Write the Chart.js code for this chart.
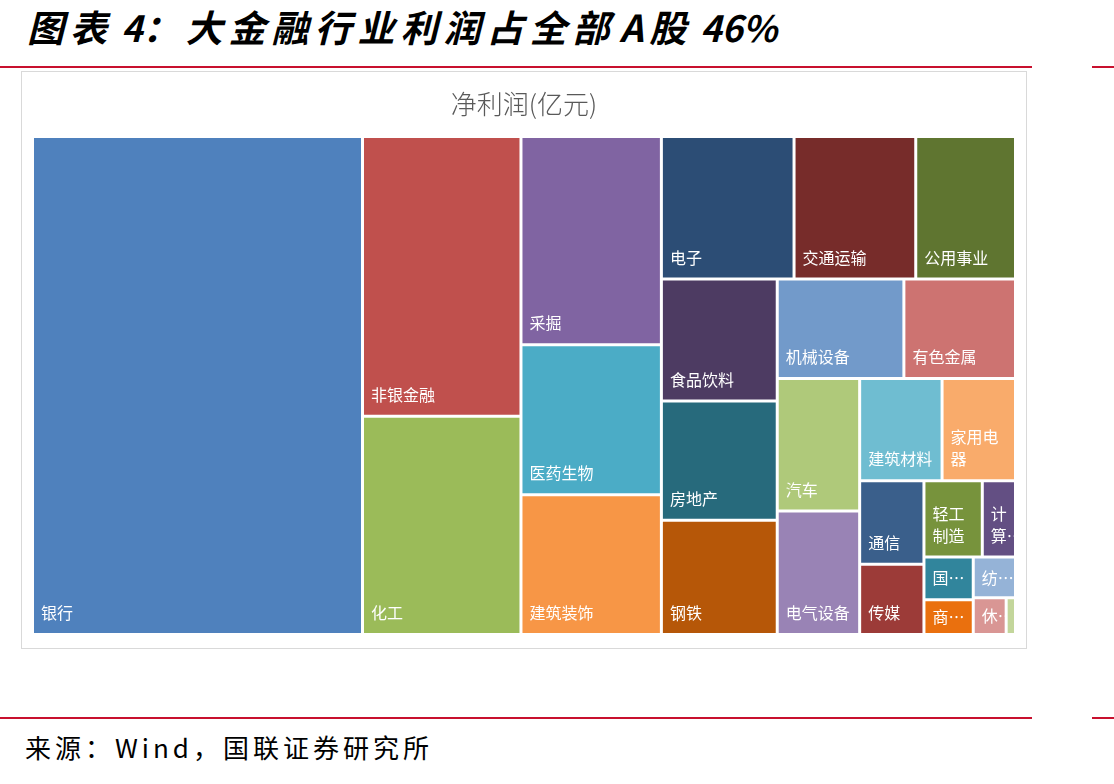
<!DOCTYPE html>
<html>
<head>
<meta charset="utf-8">
<script src="https://cdn.jsdelivr.net/npm/chart.js@4.4.1/dist/chart.umd.min.js"></script>
<style>
  html, body { margin: 0; padding: 0; background: #fff; }
  body { width: 1114px; height: 784px; position: relative; overflow: hidden; font-family: "Noto Sans CJK SC", sans-serif; }
  .heading { position: absolute; left: 27px; top: 8px; font-size: 37px; line-height: 1; font-weight: bold; font-style: italic; letter-spacing: 6px; color: #000; white-space: nowrap; }
  .heading .num { letter-spacing: 0; font-size: 36px; }
  .rule { position: absolute; height: 2px; background: #c8102e; }
  .frame { position: absolute; left: 21px; top: 71px; width: 1004px; height: 576px; border: 1px solid #d9d9d9; }
  .source { position: absolute; left: 25px; top: 734px; font-size: 26px; line-height: 1; letter-spacing: 4px; color: #000; white-space: nowrap; }
</style>
</head>
<body>
<div class="heading">图表<span class="num"> 4</span>：大金融行业利润占全部<span style="margin-left:4px">A</span>股<span class="num" style="margin-left:8px">46%</span></div>
<div class="rule" style="left:0;top:66px;width:1032px"></div>
<div class="rule" style="left:1092px;top:66px;width:22px"></div>
<div class="frame"><canvas id="treemap" width="1004" height="576"></canvas></div>
<div class="rule" style="left:0;top:717px;width:1032px"></div>
<div class="rule" style="left:1092px;top:717px;width:22px"></div>
<div class="source">来源：Wind，国联证券研究所</div>

<script>
// 申万一级行业净利润（亿元），按面积读取
var industries = ['银行', '非银金融', '化工', '采掘', '医药生物', '建筑装饰', '电子', '交通运输', '公用事业',
    '食品饮料', '房地产', '钢铁', '机械设备', '有色金属', '汽车', '电气设备', '建筑材料', '家用电器',
    '通信', '传媒', '轻工制造', '计算机', '国防军工', '商业贸易', '纺织服装', '休闲服务', '农林牧渔'];
var netProfit = [16286, 4392, 3429, 2898, 2086, 1946, 1875, 1720, 1410,
    1400, 1369, 1311, 1247, 1099, 1082, 1009, 836, 745,
    531, 448, 441, 251, 208, 170, 170, 120, 34];

var cellColors = ['#4f81bd', '#c0504d', '#9bbb59', '#8064a2', '#4bacc6', '#f79646', '#2c4d75', '#772c2a', '#5f7530',
    '#4d3b62', '#276a7c', '#b65708', '#729aca', '#cd7371', '#afc97a', '#9983b5', '#6fbdd1', '#f9ab6b',
    '#3a5f8b', '#9c3b38', '#77933c', '#634f83', '#31859c', '#ea700e', '#95b3d7', '#d99694', '#c3d69b'];

// Excel lays the strips out as if the area were a bit wider than drawn
var LAYOUT_STRETCH = 1.15;

function worstRatio(areas, start, end, thick) {
    var worst = 0;
    for (var k = start; k <= end; k++) {
        var len = areas[k] / thick;
        worst = Math.max(worst, len / thick, thick / len);
    }
    return worst;
}

// squarified treemap, returns rects in 0..1 units
function squarify(values, width, height) {
    var total = values.reduce(function (a, b) { return a + b; }, 0);
    var order = values.map(function (v, i) { return i; }).sort(function (a, b) { return values[b] - values[a]; });
    var areas = order.map(function (i) { return values[i] / total * width * height; });
    var rects = new Array(values.length);
    var x = 0, y = 0, w = width, h = height, start = 0;
    while (start < areas.length) {
        var column = w >= h;
        var side = column ? h : w;
        var end = start, sum = 0, best = Infinity;
        while (end < areas.length) {
            var s = sum + areas[end];
            var worst = worstRatio(areas, start, end, s / side);
            if (worst > best) break;
            best = worst;
            sum = s;
            end++;
        }
        var thick = sum / side, offset = 0;
        for (var k = start; k < end; k++) {
            var len = areas[k] / thick;
            var r = column
                ? { x0: x, x1: x + thick, y0: y + offset, y1: y + offset + len }
                : { x0: x + offset, x1: x + offset + len, y0: y, y1: y + thick };
            rects[order[k]] = { x0: r.x0 / width, x1: r.x1 / width, y0: r.y0 / height, y1: r.y1 / height };
            offset += len;
        }
        if (column) { x += thick; w -= thick; } else { y += thick; h -= thick; }
        start = end;
    }
    return rects;
}

class TreemapController extends Chart.DatasetController {
    update(mode) {
        var meta = this._cachedMeta;
        this.updateElements(meta.data, 0, meta.data.length, mode);
    }
    updateElements(rects, start, count, mode) {
        var meta = this._cachedMeta;
        var xScale = meta.xScale, yScale = meta.yScale;
        var area = this.chart.chartArea;
        var aspect = (area.right - area.left) / (area.bottom - area.top);
        var layout = squarify(this.getDataset().data, aspect * LAYOUT_STRETCH, 1);
        for (var i = start; i < start + count; i++) {
            var r = layout[i];
            var left = xScale.getPixelForValue(r.x0), right = xScale.getPixelForValue(r.x1);
            var top = yScale.getPixelForValue(r.y0), bottom = yScale.getPixelForValue(r.y1);
            this.updateElement(rects[i], i, {
                x: (left + right) / 2,
                y: top,
                base: bottom,
                width: right - left,
                height: bottom - top,
                horizontal: false,
                inflateAmount: 0,
                borderSkipped: { top: false, bottom: false, left: false, right: false },
                options: this.resolveDataElementOptions(i, mode)
            }, mode);
        }
    }
}
TreemapController.id = 'treemap';
TreemapController.defaults = { datasetElementType: false, dataElementType: 'bar' };
Chart.register(TreemapController);

function wrapLabel(ctx, text, maxWidth, maxLines) {
    var lines = [], line = '';
    Array.from(text).forEach(function (c) {
        if (line && ctx.measureText(line + c).width > maxWidth) {
            lines.push(line);
            line = c;
        } else {
            line += c;
        }
    });
    if (line) lines.push(line);
    if (lines.length > maxLines) {
        lines = lines.slice(0, maxLines);
        var last = lines[maxLines - 1];
        while (last.length > 1 && ctx.measureText(last + '…').width > maxWidth) last = last.slice(0, -1);
        lines[maxLines - 1] = last + '…';
    }
    return lines;
}

var cellLabels = {
    id: 'cellLabels',
    afterDatasetsDraw: function (chart) {
        var ctx = chart.ctx;
        var meta = chart.getDatasetMeta(0);
        var bw = 1.5;
        ctx.save();
        ctx.font = '16px "Noto Sans CJK SC"';
        ctx.fillStyle = '#ffffff';
        ctx.textBaseline = 'middle';
        ctx.textAlign = 'left';
        meta.data.forEach(function (rect, i) {
            var left = rect.x - rect.width / 2 + bw, right = rect.x + rect.width / 2 - bw;
            var top = Math.min(rect.y, rect.base) + bw, bottom = Math.max(rect.y, rect.base) - bw;
            var w = right - left, h = bottom - top;
            if (w < 16) return;
            var lines = wrapLabel(ctx, chart.data.labels[i], w - 12, Math.max(1, Math.floor((h - 12) / 22)));
            var lastY = h < 40 ? (top + bottom) / 2 + (lines.length - 1) * 11 : bottom - 20;
            ctx.save();
            ctx.beginPath();
            ctx.rect(left, top, w, h);
            ctx.clip();
            lines.forEach(function (txt, k) {
                ctx.fillText(txt, left + 7, lastY - (lines.length - 1 - k) * 22);
            });
            ctx.restore();
        });
        ctx.restore();
    }
};

Chart.defaults.font.family = '"Noto Sans CJK SC", sans-serif';

new Chart(document.getElementById('treemap'), {
    type: 'treemap',
    data: {
        labels: industries,
        datasets: [{
            label: '净利润(亿元)',
            data: netProfit,
            backgroundColor: cellColors,
            borderColor: '#ffffff',
            borderWidth: 1.5
        }]
    },
    options: {
        responsive: false,
        animation: false,
        events: [],
        parsing: false,
        layout: {
            padding: { left: 10.5, right: 10.5, top: 0, bottom: 13.5 }
        },
        scales: {
            x: { type: 'linear', display: false, min: 0, max: 1 },
            y: { type: 'linear', display: false, min: 0, max: 1, reverse: true }
        },
        plugins: {
            legend: { display: false },
            tooltip: { enabled: false },
            title: {
                display: true,
                text: '净利润(亿元)',
                color: '#595959',
                padding: { top: 17, bottom: 16.3 },
                font: { size: 26, weight: '300', lineHeight: 1.2 }
            }
        }
    },
    plugins: [cellLabels]
});
</script>
</body>
</html>
